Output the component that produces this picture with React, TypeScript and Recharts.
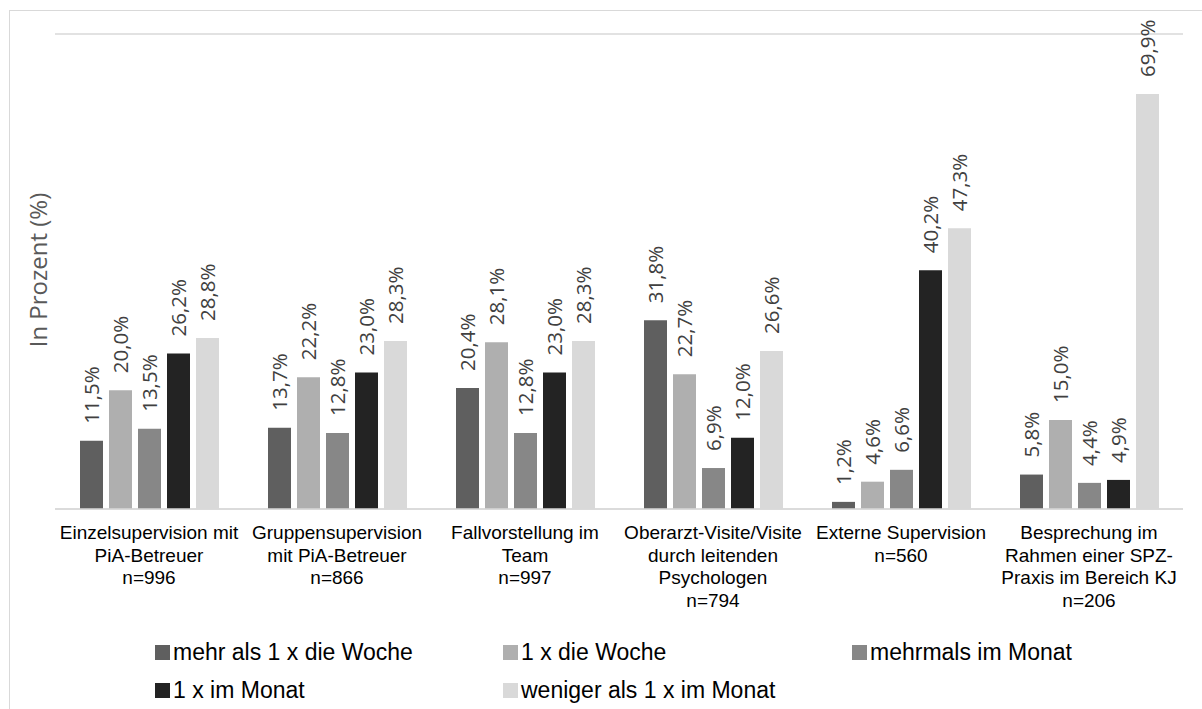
import React from "react";
import { BarChart, Bar, XAxis, YAxis, CartesianGrid, LabelList } from "recharts";

const categories = [
  "Einzelsupervision mit PiA-Betreuer",
  "Gruppensupervision mit PiA-Betreuer",
  "Fallvorstellung im Team",
  "Oberarzt-Visite/Visite durch leitenden Psychologen",
  "Externe Supervision",
  "Besprechung im Rahmen einer SPZ-Praxis im Bereich KJ",
];
const categoryLines = [
  ["Einzelsupervision mit", "PiA-Betreuer", "n=996"],
  ["Gruppensupervision", "mit PiA-Betreuer", "n=866"],
  ["Fallvorstellung im", "Team", "n=997"],
  ["Oberarzt-Visite/Visite", "durch leitenden", "Psychologen", "n=794"],
  ["Externe Supervision", "n=560"],
  ["Besprechung im", "Rahmen einer SPZ-", "Praxis im Bereich KJ", "n=206"],
];

const seriesNames = [
  "mehr als 1 x die Woche",
  "1 x die Woche",
  "mehrmals im Monat",
  "1 x im Monat",
  "weniger als 1 x im Monat",
];
const seriesColors = ["#5f5f5f", "#afafaf", "#878787", "#232323", "#d9d9d9"];

const mehrAlsEinmalWoche = [11.5, 13.7, 20.4, 31.8, 1.2, 5.8];
const einmalWoche = [20.0, 22.2, 28.1, 22.7, 4.6, 15.0];
const mehrmalsMonat = [13.5, 12.8, 12.8, 6.9, 6.6, 4.4];
const einmalMonat = [26.2, 23.0, 23.0, 12.0, 40.2, 4.9];
const wenigerAlsEinmalMonat = [28.8, 28.3, 28.3, 26.6, 47.3, 69.9];

const seriesValues = [
  mehrAlsEinmalWoche,
  einmalWoche,
  mehrmalsMonat,
  einmalMonat,
  wenigerAlsEinmalMonat,
];
const yTicks = [0, 10, 20, 30, 40, 50, 60, 70, 80];

const data = categories.map((c, i) => {
  const row: any = { name: c, idx: i };
  seriesValues.forEach((s, k) => {
    row["s" + k] = s[i];
  });
  return row;
});

const fmt = (v: number) => v.toFixed(1).replace(".", ",") + "%";

const CatTick = (props: any) => {
  const { x, y, payload } = props;
  const idx = categories.indexOf(payload.value);
  const lines = categoryLines[idx] || [payload.value];
  return (
    <text
      x={x}
      y={y}
      textAnchor="middle"
      fill="#000"
      style={{ fontFamily: "'Liberation Sans', Arial, sans-serif", fontSize: 19 }}
    >
      {lines.map((l, i) => (
        <tspan key={i} x={x} dy={i === 0 ? 22 : 22.7}>
          {l}
        </tspan>
      ))}
    </text>
  );
};

const ValueLabel = (props: any) => {
  const { x, y, width, value } = props;
  const cx = x + width / 2;
  const sy = y - 17;
  return (
    <text
      x={cx}
      y={sy}
      transform={`rotate(-90 ${cx} ${sy})`}
      textAnchor="start"
      dy="0.36em"
      fill="#404040"
      style={{ fontFamily: "'Open Sans', sans-serif", fontSize: 20.5 }}
    >
      {fmt(value)}
    </text>
  );
};

const legendCols = [155, 503, 852];
const legendRows = [652, 690];

export default function App() {
  return (
    <div
      style={{
        position: "fixed",
        left: 0,
        top: 0,
        width: 1202,
        height: 709,
        overflow: "hidden",
        background: "#fff",
      }}
    >
      <div
        style={{
          position: "absolute",
          left: 9,
          top: 10,
          width: 1200,
          height: 760,
          border: "1px solid #d9d9d9",
          boxSizing: "border-box",
        }}
      />
      <div style={{ position: "absolute", left: 0, top: 0 }}>
        <BarChart
          width={1202}
          height={709}
          data={data}
          margin={{ top: 34, right: 19, left: 55, bottom: 90 }}
          barCategoryGap={25}
          barGap={6}
        >
          <CartesianGrid vertical={false} stroke="#d9d9d9" strokeWidth={1.3} />
          <YAxis
            width={0}
            domain={[0, 80]}
            ticks={yTicks}
            tick={false}
            axisLine={false}
            tickLine={false}
          />
          <XAxis
            dataKey="name"
            height={110}
            interval={0}
            tickLine={false}
            axisLine={{ stroke: "#d9d9d9", strokeWidth: 1.3 }}
            tick={<CatTick />}
          />
          {seriesNames.map((n, k) => (
            <Bar
              key={k}
              dataKey={"s" + k}
              name={n}
              fill={seriesColors[k]}
              isAnimationActive={false}
            >
              <LabelList dataKey={"s" + k} content={<ValueLabel />} />
            </Bar>
          ))}
        </BarChart>
      </div>
      <div
        style={{
          position: "absolute",
          left: 38,
          top: 270,
          transform: "translate(-50%, -50%) rotate(-90deg)",
          whiteSpace: "nowrap",
          fontFamily: "'Open Sans', sans-serif",
          fontSize: 24,
          color: "#595959",
          lineHeight: 1,
        }}
      >
        In Prozent (%)
      </div>
      {seriesNames.map((n, k) => {
        const col = legendCols[k % 3];
        const row = legendRows[Math.floor(k / 3)];
        return (
          <div
            key={k}
            style={{
              position: "absolute",
              left: col,
              top: row - 14,
              height: 28,
              display: "flex",
              alignItems: "center",
              whiteSpace: "nowrap",
              fontFamily: "'Liberation Sans', Arial, sans-serif",
              fontSize: 23,
              color: "#000",
            }}
          >
            <span
              style={{
                display: "inline-block",
                width: 15,
                height: 15,
                background: seriesColors[k],
                marginRight: 3,
              }}
            />
            {n}
          </div>
        );
      })}
    </div>
  );
}
